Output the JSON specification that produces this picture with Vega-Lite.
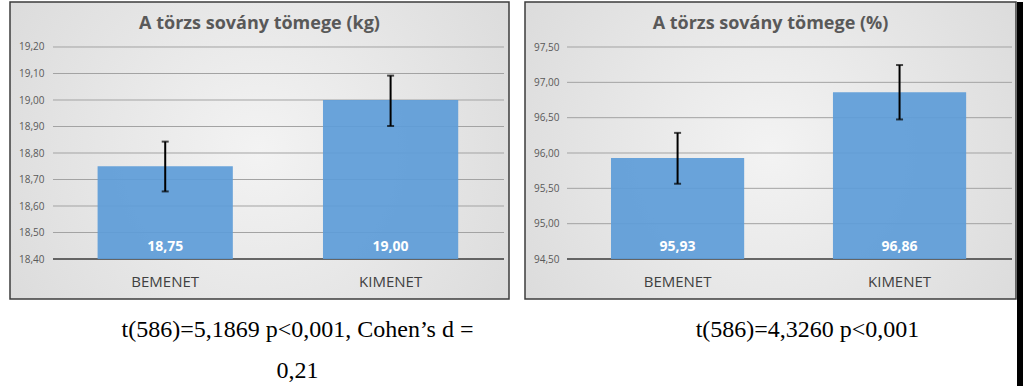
{
  "$schema": "https://vega.github.io/schema/vega-lite/v6.json",
  "padding": {"left": 9, "top": 1, "right": 0, "bottom": 0},
  "background": "white",
  "spacing": 14,
  "config": {
    "locale": {"number": {"decimal": ",", "thousands": ".", "grouping": [3], "currency": ["", ""]}},
    "font": "Open Sans",
    "view": {
      "fill": {"gradient": "radial", "x1": 0.5, "y1": 0.5, "r1": 0, "x2": 0.5, "y2": 0.5, "r2": 0.75,
        "stops": [{"offset": 0, "color": "#f3f3f3"}, {"offset": 1, "color": "#d5d5d5"}]},
      "stroke": "#3c3c3c",
      "strokeWidth": 1.5
    },
    "axisY": {"offset": -36, "ticks": false, "tickSize": 0, "domain": false, "grid": false, "labelPadding": 2, "labelFontSize": 10, "labelColor": "#595959", "labelOverlap": false, "format": ".2f", "title": null},
    "axisX": {"offset": -27, "ticks": false, "tickSize": 0, "domain": false, "grid": false, "labelAngle": 0, "labelFontSize": 15, "labelColor": "#404040", "labelPadding": 2,
      "titleFont": "Liberation Serif", "titleFontSize": 24, "titleFontWeight": "normal", "titleColor": "black", "titleBaseline": "alphabetic", "titleLineHeight": 41, "titleY": 64}
  },
  "hconcat": [
    {
      "width": 499,
      "height": 297,
      "title": {"text": "A törzs sovány tömege (kg)", "fontSize": 18, "font": "Open Sans", "fontWeight": "bold", "color": "#595959", "anchor": "middle", "offset": -45, "baseline": "alphabetic", "frame": "group"},
      "layer": [
        {
          "data": {"values": [
            {"a": "L", "b": "R", "t": 18.4}, {"a": "L", "b": "R", "t": 18.5}, {"a": "L", "b": "R", "t": 18.6},
            {"a": "L", "b": "R", "t": 18.7}, {"a": "L", "b": "R", "t": 18.8}, {"a": "L", "b": "R", "t": 18.9},
            {"a": "L", "b": "R", "t": 19.0}, {"a": "L", "b": "R", "t": 19.1}, {"a": "L", "b": "R", "t": 19.2}
          ]},
          "mark": {"type": "rule"},
          "encoding": {
            "x": {"field": "a", "type": "nominal", "scale": {"type": "point", "domain": ["L", "R"], "padding": 0.0532, "align": 0.896}, "axis": null},
            "x2": {"field": "b"},
            "y": {"field": "t", "type": "quantitative", "title": null, "scale": {"domain": [18.2491, 19.3698], "zero": false, "nice": false},
              "axis": {"values": [18.4, 18.5, 18.6, 18.7, 18.8, 18.9, 19.0, 19.1, 19.2], "labelOverlap": false}},
            "color": {"condition": {"test": "datum.t < 18.45", "value": "#3a3a3a"}, "value": "#a3a3a3"},
            "strokeWidth": {"condition": {"test": "datum.t < 18.45", "value": 1.6}, "value": 1}
          }
        },
        {
          "data": {"values": [
            {"cat": "BEMENET", "v": 18.75, "lo": 18.655, "hi": 18.843},
            {"cat": "KIMENET", "v": 19.0, "lo": 18.902, "hi": 19.092}
          ]},
          "encoding": {
            "x": {"field": "cat", "type": "nominal", "sort": null,
              "scale": {"paddingInner": 0.4, "paddingOuter": 0.307, "align": 0.633},
              "axis": {"title": ["t(586)=5,1869 p<0,001, Cohen’s d =", "0,21"], "titleX": 287}}
          },
          "layer": [
            {"mark": {"type": "bar", "color": "#5d9cd8", "opacity": 0.92},
             "encoding": {"y": {"field": "v", "type": "quantitative", "title": null, "axis": {"values": [18.4, 18.5, 18.6, 18.7, 18.8, 18.9, 19.0, 19.1, 19.2], "labelOverlap": false}}, "y2": {"datum": 18.4}}},
            {"mark": {"type": "rule", "color": "black", "strokeWidth": 2},
             "encoding": {"y": {"field": "lo", "type": "quantitative", "title": null, "axis": {"values": [18.4, 18.5, 18.6, 18.7, 18.8, 18.9, 19.0, 19.1, 19.2], "labelOverlap": false}}, "y2": {"field": "hi"}}},
            {"mark": {"type": "tick", "color": "black", "thickness": 2, "size": 7},
             "encoding": {"y": {"field": "lo", "type": "quantitative", "title": null, "axis": {"values": [18.4, 18.5, 18.6, 18.7, 18.8, 18.9, 19.0, 19.1, 19.2], "labelOverlap": false}}}},
            {"mark": {"type": "tick", "color": "black", "thickness": 2, "size": 7},
             "encoding": {"y": {"field": "hi", "type": "quantitative", "title": null, "axis": {"values": [18.4, 18.5, 18.6, 18.7, 18.8, 18.9, 19.0, 19.1, 19.2], "labelOverlap": false}}}},
            {"mark": {"type": "text", "color": "white", "fontWeight": "bold", "fontSize": 14, "baseline": "middle", "dy": -12},
             "encoding": {"y": {"datum": 18.4, "axis": {"values": [18.4, 18.5, 18.6, 18.7, 18.8, 18.9, 19.0, 19.1, 19.2], "labelOverlap": false}}, "text": {"field": "v", "type": "quantitative", "format": ".2f"}}}
          ]
        }
      ],
      "resolve": {"scale": {"x": "independent"}}
    },
    {
      "spacing": 0,
      "hconcat": [
        {
          "width": 491,
          "height": 297,
          "title": {"text": "A törzs sovány tömege (%)", "fontSize": 18, "font": "Open Sans", "fontWeight": "bold", "color": "#595959", "anchor": "middle", "offset": -45, "baseline": "alphabetic", "frame": "group"},
          "layer": [
            {
              "data": {"values": [
                {"a": "L", "b": "R", "t": 94.5}, {"a": "L", "b": "R", "t": 95.0}, {"a": "L", "b": "R", "t": 95.5},
                {"a": "L", "b": "R", "t": 96.0}, {"a": "L", "b": "R", "t": 96.5}, {"a": "L", "b": "R", "t": 97.0},
                {"a": "L", "b": "R", "t": 97.5}
              ]},
              "mark": {"type": "rule"},
              "encoding": {
                "x": {"field": "a", "type": "nominal", "scale": {"type": "point", "domain": ["L", "R"], "padding": 0.0517, "align": 0.913}, "axis": null},
                "x2": {"field": "b"},
                "y": {"field": "t", "type": "quantitative", "title": null, "scale": {"domain": [93.934, 98.137], "zero": false, "nice": false},
                  "axis": {"values": [94.5, 95.0, 95.5, 96.0, 96.5, 97.0, 97.5], "labelOverlap": false}},
                "color": {"condition": {"test": "datum.t < 94.6", "value": "#3a3a3a"}, "value": "#a3a3a3"},
                "strokeWidth": {"condition": {"test": "datum.t < 94.6", "value": 1.6}, "value": 1}
              }
            },
            {
              "data": {"values": [
                {"cat": "BEMENET", "v": 95.93, "lo": 95.565, "hi": 96.285},
                {"cat": "KIMENET", "v": 96.86, "lo": 96.475, "hi": 97.245}
              ]},
              "encoding": {
                "x": {"field": "cat", "type": "nominal", "sort": null,
                  "scale": {"paddingInner": 0.4, "paddingOuter": 0.306, "align": 0.633},
                  "axis": {"title": "t(586)=4,3260 p<0,001", "titleX": 282}}
              },
              "layer": [
                {"mark": {"type": "bar", "color": "#5d9cd8", "opacity": 0.92},
                 "encoding": {"y": {"field": "v", "type": "quantitative", "title": null, "axis": {"values": [94.5, 95.0, 95.5, 96.0, 96.5, 97.0, 97.5], "labelOverlap": false}}, "y2": {"datum": 94.5}}},
                {"mark": {"type": "rule", "color": "black", "strokeWidth": 2},
                 "encoding": {"y": {"field": "lo", "type": "quantitative", "title": null, "axis": {"values": [94.5, 95.0, 95.5, 96.0, 96.5, 97.0, 97.5], "labelOverlap": false}}, "y2": {"field": "hi"}}},
                {"mark": {"type": "tick", "color": "black", "thickness": 2, "size": 7},
                 "encoding": {"y": {"field": "lo", "type": "quantitative", "title": null, "axis": {"values": [94.5, 95.0, 95.5, 96.0, 96.5, 97.0, 97.5], "labelOverlap": false}}}},
                {"mark": {"type": "tick", "color": "black", "thickness": 2, "size": 7},
                 "encoding": {"y": {"field": "hi", "type": "quantitative", "title": null, "axis": {"values": [94.5, 95.0, 95.5, 96.0, 96.5, 97.0, 97.5], "labelOverlap": false}}}},
                {"mark": {"type": "text", "color": "white", "fontWeight": "bold", "fontSize": 14, "baseline": "middle", "dy": -12},
                 "encoding": {"y": {"datum": 94.5, "axis": {"values": [94.5, 95.0, 95.5, 96.0, 96.5, 97.0, 97.5], "labelOverlap": false}}, "text": {"field": "v", "type": "quantitative", "format": ".2f"}}}
              ]
            }
          ],
          "resolve": {"scale": {"x": "independent"}}
        },
        {
          "width": 10,
          "height": 385,
          "view": {"fill": "black", "stroke": null},
          "data": {"values": [{"k": 1}]},
          "mark": {"type": "text"},
          "encoding": {"text": {"value": ""}}
        }
      ]
    }
  ]
}
